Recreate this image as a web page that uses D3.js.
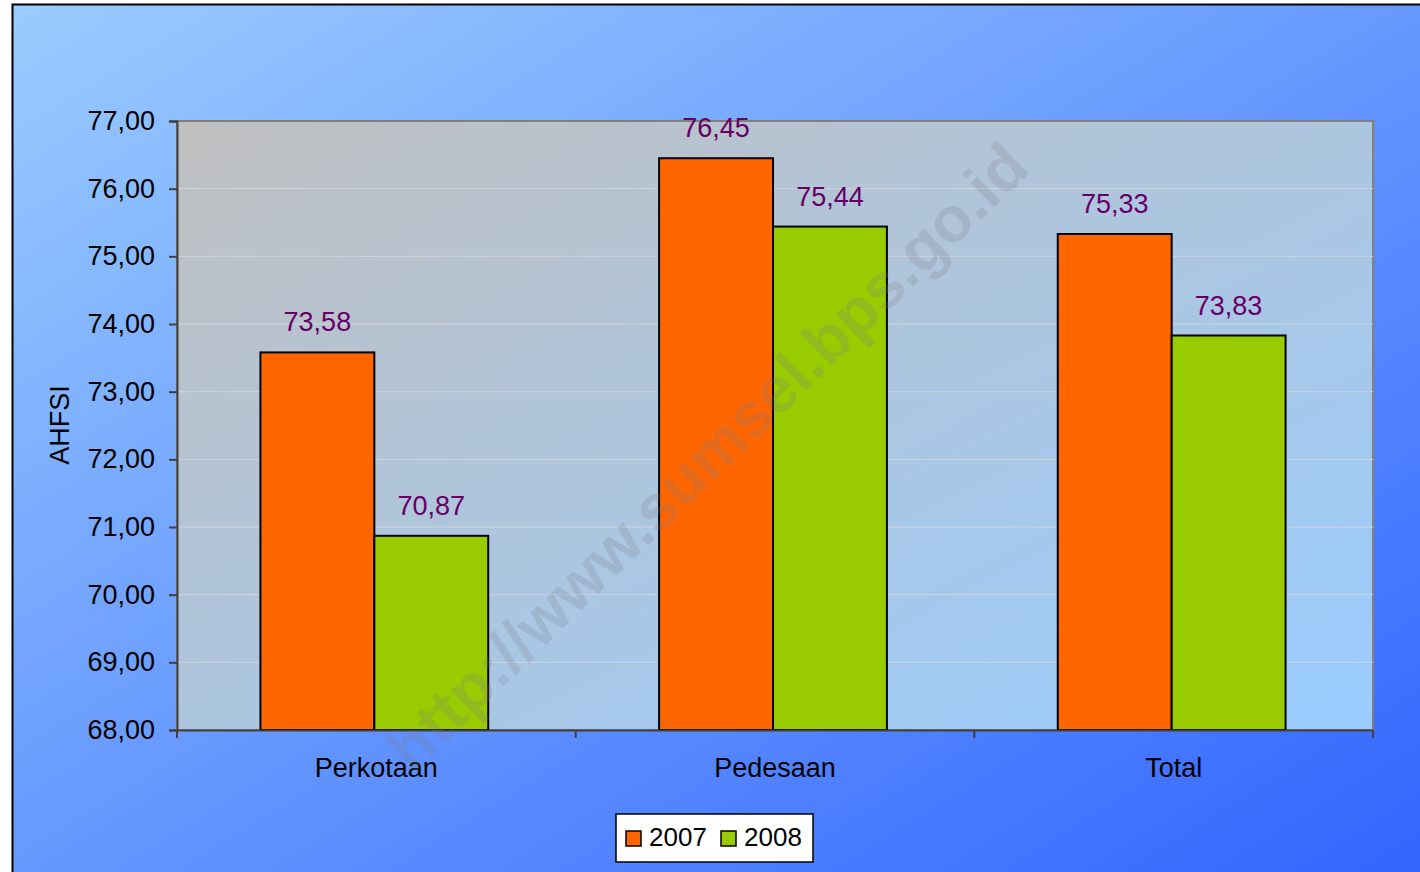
<!DOCTYPE html>
<html>
<head>
<meta charset="utf-8">
<script src="https://cdn.jsdelivr.net/npm/d3@7"></script>
<style>
  html, body { margin: 0; padding: 0; background: #ffffff; }
  svg { display: block; font-family: "Liberation Sans", Arial, sans-serif; }
</style>
</head>
<body>
<svg id="chart" width="1420" height="872"></svg>
<script>
// chart values
const categories = ["Perkotaan", "Pedesaan", "Total"];
const seriesNames = ["2007", "2008"];
const values2007 = [73.58, 76.45, 75.33];
const values2008 = [70.87, 75.44, 73.83];
const yTicks = [68, 69, 70, 71, 72, 73, 74, 75, 76, 77];
const seriesColors = ["#FF6600", "#99CC00"];

const WIDTH = 1420;
const HEIGHT = 872;
const plot = { left: 177, top: 121, right: 1373, bottom: 730 };

const svg = d3.select("#chart");
const defs = svg.append("defs");

// outer background gradient
const bgGrad = defs.append("linearGradient")
    .attr("id", "bgGrad")
    .attr("x1", 0).attr("y1", 0).attr("x2", 1).attr("y2", 1);
bgGrad.append("stop").attr("offset", "0%").attr("stop-color", "#9ACCFF");
bgGrad.append("stop").attr("offset", "100%").attr("stop-color", "#3264FF");

// plot area gradient
const plotGrad = defs.append("linearGradient")
    .attr("id", "plotGrad")
    .attr("x1", 0).attr("y1", 0).attr("x2", 1).attr("y2", 1);
plotGrad.append("stop").attr("offset", "0%").attr("stop-color", "#C0C0C0");
plotGrad.append("stop").attr("offset", "100%").attr("stop-color", "#99CCFF");

svg.append("rect")
    .attr("x", 12.5).attr("y", 4.5)
    .attr("width", WIDTH).attr("height", HEIGHT)
    .attr("fill", "url(#bgGrad)")
    .attr("stroke", "#000").attr("stroke-width", 2);

// scales
const y = d3.scaleLinear()
    .domain([d3.min(yTicks), d3.max(yTicks)])
    .range([plot.bottom, plot.top]);

const x = d3.scaleBand()
    .domain(categories)
    .range([plot.left, plot.right]);

// Excel style gap width 150%
const xSub = d3.scaleBand()
    .domain(seriesNames)
    .range([-2, x.bandwidth() - 2])
    .paddingInner(0)
    .paddingOuter(0.75);

// plot area
svg.append("rect")
    .attr("x", plot.left).attr("y", plot.top)
    .attr("width", plot.right - plot.left)
    .attr("height", plot.bottom - plot.top)
    .attr("fill", "url(#plotGrad)")
    .attr("stroke", "#808080").attr("stroke-width", 2);

// gridlines
svg.append("g")
    .selectAll("line")
    .data(yTicks.slice(1, -1))
    .enter()
    .append("line")
    .attr("x1", plot.left).attr("x2", plot.right)
    .attr("y1", d => y(d)).attr("y2", d => y(d))
    .attr("stroke", "#d0d4dc").attr("stroke-width", 1);

// bars
const tableData = categories.map((c, i) => ({
    category: c,
    values: [
        { series: seriesNames[0], value: values2007[i], color: seriesColors[0] },
        { series: seriesNames[1], value: values2008[i], color: seriesColors[1] }
    ]
}));

const groups = svg.append("g")
    .selectAll("g")
    .data(tableData)
    .enter()
    .append("g")
    .attr("transform", d => `translate(${x(d.category)},0)`);

groups.selectAll("rect")
    .data(d => d.values)
    .enter()
    .append("rect")
    .attr("x", d => xSub(d.series))
    .attr("y", d => y(d.value))
    .attr("width", xSub.bandwidth())
    .attr("height", d => y(y.domain()[0]) - y(d.value))
    .attr("fill", d => d.color)
    .attr("stroke", "#000").attr("stroke-width", 2);

const fmt = d => d3.format(".2f")(d).replace(".", ",");

groups.selectAll("text")
    .data(d => d.values)
    .enter()
    .append("text")
    .attr("x", d => xSub(d.series) + xSub.bandwidth() / 2)
    .attr("y", d => y(d.value) - 21)
    .attr("text-anchor", "middle")
    .attr("font-size", 27)
    .attr("fill", "#660066")
    .text(d => fmt(d.value));

// y axis
const yAxis = d3.axisLeft(y)
    .tickValues(yTicks)
    .tickSize(8)
    .tickPadding(14)
    .tickFormat(fmt);

const yAxisG = svg.append("g")
    .attr("transform", `translate(${plot.left},0)`)
    .call(yAxis);
yAxisG.select(".domain").attr("stroke", "#404040").attr("stroke-width", 2);
yAxisG.selectAll(".tick line").attr("stroke", "#404040").attr("stroke-width", 2);
yAxisG.selectAll(".tick text")
    .attr("font-size", 27)
    .attr("font-family", "Liberation Sans, Arial, sans-serif")
    .attr("fill", "#000");

// x axis
const xAxis = d3.axisBottom(x).tickSize(0).tickPadding(28);
const xAxisG = svg.append("g")
    .attr("transform", `translate(0,${plot.bottom})`)
    .call(xAxis);
xAxisG.select(".domain").attr("stroke", "#404040").attr("stroke-width", 2);
xAxisG.selectAll(".tick text")
    .attr("font-size", 27)
    .attr("font-family", "Liberation Sans, Arial, sans-serif")
    .attr("fill", "#000");

// band boundary ticks
const boundaries = categories.map(c => x(c)).concat([x(categories[categories.length - 1]) + x.bandwidth()]);
xAxisG.selectAll(".bound")
    .data(boundaries)
    .enter()
    .append("line")
    .attr("class", "bound")
    .attr("x1", d => d).attr("x2", d => d)
    .attr("y1", 0).attr("y2", 8)
    .attr("stroke", "#404040").attr("stroke-width", 2);

// y axis title
svg.append("text")
    .attr("transform", `translate(69,425) rotate(-90)`)
    .attr("text-anchor", "middle")
    .attr("font-size", 27)
    .attr("fill", "#000")
    .text("AHFSI");

// watermark
svg.append("text")
    .attr("transform", "translate(707,457) rotate(-44.3)")
    .attr("text-anchor", "middle")
    .attr("dominant-baseline", "central")
    .attr("font-size", 64)
    .attr("font-weight", "bold")
    .attr("fill", "#7a7a8a")
    .attr("fill-opacity", 0.22)
    .text("http://www.sumsel.bps.go.id");

// legend
const legend = svg.append("g").attr("transform", "translate(616,814)");
legend.append("rect")
    .attr("width", 197).attr("height", 48)
    .attr("fill", "#fff")
    .attr("stroke", "#000").attr("stroke-width", 1.5);

const legendItems = legend.selectAll("g")
    .data(seriesNames)
    .enter()
    .append("g")
    .attr("transform", (d, i) => `translate(${10 + i * 95},0)`);

legendItems.append("rect")
    .attr("x", 0).attr("y", 17)
    .attr("width", 15).attr("height", 15)
    .attr("fill", (d, i) => seriesColors[i])
    .attr("stroke", "#000").attr("stroke-width", 1.5);

legendItems.append("text")
    .attr("x", 23).attr("y", 32)
    .attr("font-size", 26)
    .attr("fill", "#000")
    .text(d => d);
</script>
</body>
</html>
